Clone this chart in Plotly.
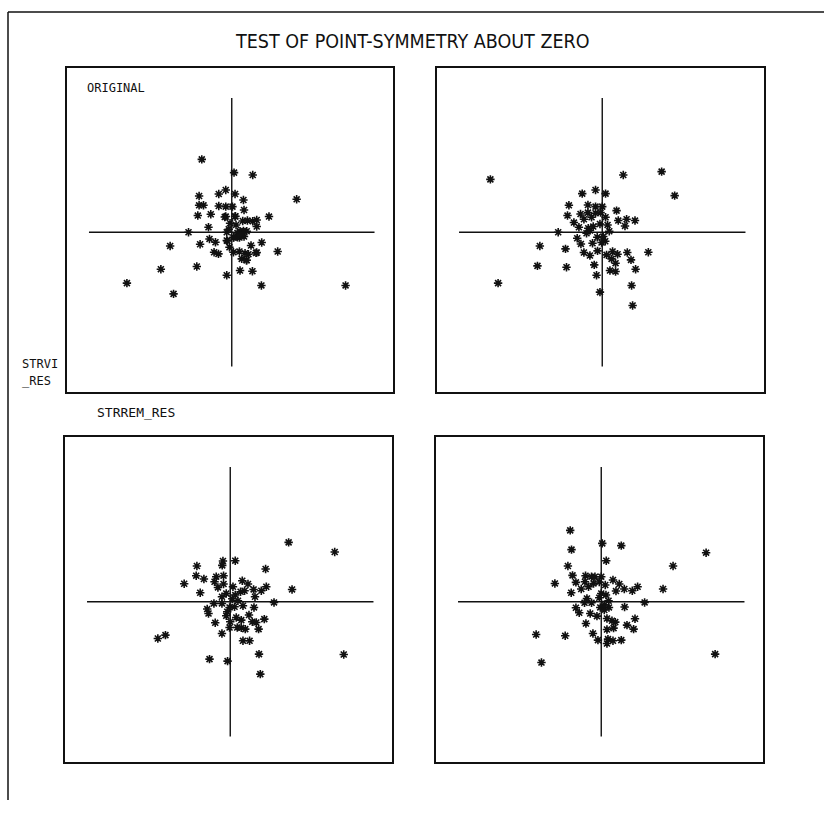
import plotly.graph_objects as go

# Residual pairs (x = STRREM_RES, y = STRVI_RES) for each of the four panels
orig_x = [-3.0, 0.23, 2.1, -0.6, -1.3, -3.27, 0.33, 1.17, 6.5, -3.27, -2.83, -1.3, -0.6, 0.07,
          1.23, -3.4, -2.1, -0.6, 3.73, 0.33, 1.1, 1.57, 2.1, 2.5, -0.17, 0.43, -2.33, 2.5,
          -4.33, -0.5, 0.83, 1.5, -2.23, -3.17, -1.63, -0.5, 0.17, 0.77, 1.23, 3.0, 1.93,
          -0.23, -6.17, -1.77, -1.33, 0.17, 0.77, 1.33, 1.67, 2.5, 4.6, 1.0, 1.5, -7.1, -3.5,
          0.83, 2.07, -0.5, -10.5, 2.97, 11.4, -5.83, 0.37, -0.7, 0.57, 1.17, 0.57, 0.2,
          -0.43, 1.47, 2.43, -0.3, 0.9]
orig_y = [7.3, 5.97, 5.73, 4.23, 3.83, 3.63, 3.83, 3.23, 3.3, 2.7, 2.7, 2.63, 2.57, 2.57,
          2.23, 1.67, 1.8, 1.57, 1.57, 1.57, 1.13, 1.17, 1.1, 1.23, 0.9, 0.73, 0.5, 0.57,
          0.0, 0.0, 0.1, 0.1, -0.67, -1.2, -1.0, -0.83, -0.53, -0.53, -0.43, -1.03, -1.33,
          -1.5, -1.37, -2.0, -2.17, -2.0, -1.93, -2.1, -2.2, -2.03, -1.93, -2.67, -2.8, -3.7,
          -3.43, -3.83, -3.9, -4.3, -5.1, -5.33, -5.33, -6.17, 1.6, 1.53, -0.07, 0.13, -0.5,
          -0.5, -0.87, -2.8, -2.07, 0.3, -0.2]

sym1_x = [-11.17, 2.1, 5.93, 7.23, -2.0, -0.67, 0.33, -3.33, -1.43, -0.67, 0.0, 1.43, -3.47,
          -2.17, -1.43, -0.67, -0.17, 0.33, -1.83, -1.07, 1.6, 2.43, 3.27, 2.27, -2.83, -2.33,
          -1.4, -0.9, -0.23, 0.53, -4.4, -1.57, -1.23, 0.7, 0.1, -2.5, -2.13, -0.97, -0.07,
          -6.23, -3.67, -1.83, -1.23, -0.47, 0.43, 1.03, 1.53, 2.5, 4.6, 0.93, 2.87, 1.33,
          -6.47, -3.57, -0.8, 3.33, 0.77, 1.33, -0.57, -10.4, 2.93, -0.23, 3.03, -0.5, 0.3]
sym1_y = [5.3, 5.73, 6.07, 3.67, 3.87, 4.23, 3.87, 2.7, 2.73, 2.57, 2.57, 2.17, 1.67, 1.83,
          1.97, 1.9, 1.97, 1.5, 1.3, 1.5, 1.17, 1.3, 1.17, 0.63, 0.97, 0.5, 0.4, 0.57, 0.83,
          0.73, 0.0, -0.1, 0.17, 0.1, -0.43, -0.6, -1.17, -1.1, -1.03, -1.37, -1.67, -2.03,
          -2.33, -1.87, -2.27, -1.93, -2.2, -2.03, -2.0, -2.67, -2.77, -3.1, -3.37, -3.5,
          -3.27, -3.7, -3.83, -3.93, -4.3, -5.1, -5.33, -6.0, -7.33, -0.5, -0.9]

sym2_x = [5.83, 10.43, -0.73, 0.5, -0.8, -3.33, 3.53, -3.4, -2.63, -1.4, -0.67, -1.57, -0.67,
          1.2, 1.77, -4.6, -1.23, 0.27, 1.03, 1.43, 2.33, 3.1, 3.6, 6.17, -3.0, -0.4, -0.83,
          0.5, 2.47, -1.63, -0.83, 0.77, 4.37, -0.07, 0.43, 1.27, 2.37, -2.3, -2.17, -0.4,
          0.6, 1.1, 1.87, 3.4, 2.2, 2.6, -1.5, 0.0, -0.07, 0.7, 1.1, 1.5, 2.83, -0.83,
          -7.23, -6.47, 1.27, 1.93, 2.87, 11.33, -2.07, -0.27, 3.0, 0.2, -0.3]
sym2_y = [5.93, 4.97, 4.07, 4.1, 3.63, 3.57, 3.27, 2.6, 2.27, 2.5, 2.6, 2.0, 1.77, 2.1, 1.77,
          1.8, 1.43, 1.5, 1.0, 1.1, 1.23, 1.1, 1.5, 1.23, 0.9, 0.83, 0.5, 0.67, 0.5, -0.17,
          -0.17, 0.1, -0.07, -0.57, -0.5, -0.4, -0.57, -0.73, -1.17, -1.4, -1.57, -1.83,
          -1.33, -1.73, -2.0, -2.07, -2.1, -2.0, -2.57, -2.57, -2.6, -2.73, -2.73, -3.17,
          -3.67, -3.33, -3.9, -3.9, -5.23, -5.27, -5.73, -5.93, -7.23, 0.3, -1.0]

sym3_x = [-3.1, 0.1, 2.0, -2.97, 10.47, 0.5, -3.33, 7.17, -2.87, -1.57, -0.97, -0.63, 0.0,
          -4.63, -2.53, -1.63, -0.77, -0.2, 0.4, 1.17, 1.8, -2.0, -1.27, 1.47, 2.3, 3.1,
          3.63, 6.17, -3.0, 0.0, 0.47, -1.43, 0.73, 4.33, -1.67, -0.97, -2.53, -2.2, -0.1,
          0.3, 0.77, 2.33, -1.1, -0.43, 0.57, 1.07, 1.4, 3.37, 2.57, 3.23, -1.53, 0.57,
          1.23, -0.83, -6.5, -3.6, -0.33, 0.67, 1.17, 2.0, 0.57, 11.37, -5.97, -0.2, 0.3]
sym3_y = [7.13, 5.83, 5.6, 5.2, 4.9, 4.1, 3.57, 3.57, 2.63, 2.6, 2.5, 2.5, 2.5, 1.83, 1.93,
          2.0, 1.83, 1.97, 1.67, 2.17, 1.77, 1.27, 1.5, 1.07, 1.27, 1.1, 1.5, 1.27, 0.9,
          0.83, 0.67, 0.33, 0.1, -0.07, -0.1, -0.1, -0.6, -1.1, -0.57, -0.83, -0.57, -0.53,
          -1.17, -1.43, -1.67, -1.9, -2.03, -1.7, -2.33, -2.73, -2.17, -2.77, -2.63, -3.17,
          -3.27, -3.4, -3.83, -3.73, -3.9, -3.83, -4.17, -5.23, -6.07, 0.4, -0.3]

panel_x = [orig_x, sym1_x, sym2_x, sym3_x]
panel_y = [orig_y, sym1_y, sym2_y, sym3_y]

# Reference cross through the origin
CROSS_X = [-14.3, 14.3]
CROSS_Y = [-13.45, 13.45]
X_RANGE = [-16.5, 16.15]
Y_RANGE = [-16.0, 16.45]

W, H = 824, 815
# Panel boxes in pixels: (left, top, right, bottom)
boxes = [(67, 68, 393, 392), (437, 68, 764, 392), (65, 437, 392, 762), (436, 437, 763, 762)]

INK = "#111111"
MONO = "DejaVu Sans Mono"
NARROW = "Liberation Sans Narrow, DejaVu Sans Condensed, DejaVu Sans Mono"

fig = go.Figure()
layout_axes = {}
for i, (bx, by) in enumerate(zip(panel_x, panel_y)):
    n = "" if i == 0 else str(i + 1)
    xa, ya = "x" + n, "y" + n
    fig.add_trace(go.Scatter(x=CROSS_X, y=[0, 0], mode="lines", xaxis=xa, yaxis=ya,
                             line=dict(color=INK, width=1.4), hoverinfo="skip",
                             showlegend=False))
    fig.add_trace(go.Scatter(x=[0, 0], y=CROSS_Y, mode="lines", xaxis=xa, yaxis=ya,
                             line=dict(color=INK, width=1.4), hoverinfo="skip",
                             showlegend=False))
    fig.add_trace(go.Scatter(x=bx, y=by, mode="markers", xaxis=xa, yaxis=ya,
                             marker=dict(symbol="asterisk-open", size=7, color=INK,
                                         line=dict(color=INK, width=1.6)),
                             showlegend=False))
    l, t, r, b = boxes[i]
    common = dict(showgrid=False, zeroline=False, showticklabels=False, ticks="",
                  showline=True, mirror=True, linecolor=INK, linewidth=1.5, fixedrange=True)
    layout_axes["xaxis" + n] = dict(common, domain=[l / W, r / W], range=X_RANGE,
                                    anchor=ya)
    layout_axes["yaxis" + n] = dict(common, domain=[1 - b / H, 1 - t / H], range=Y_RANGE,
                                    anchor=xa)

fig.update_layout(**layout_axes)

def px_ann(text, x, y, size, family=MONO, xanchor="left"):
    fig.add_annotation(text=text, x=x / W, y=1 - y / H, xref="paper", yref="paper",
                       showarrow=False, xanchor=xanchor, yanchor="middle",
                       font=dict(family=family, size=size, color=INK))

px_ann("TEST OF POINT-SYMMETRY ABOUT ZERO", 412, 41, 19.5, family=NARROW, xanchor="center")
px_ann("ORIGINAL", 85, 88, 12)
px_ann("STRREM_RES", 95, 412, 13)
px_ann("STRVI", 20, 364, 12)
px_ann("_RES", 20, 381, 12)

# Outer frame: top edge and left edge
fig.add_shape(type="line", xref="paper", yref="paper", x0=8 / W, x1=1.0,
              y0=1 - 12 / H, y1=1 - 12 / H, line=dict(color=INK, width=1.5))
fig.add_shape(type="line", xref="paper", yref="paper", x0=8 / W, x1=8 / W,
              y0=1 - 12 / H, y1=1 - 800 / H, line=dict(color=INK, width=1.5))

fig.update_layout(width=W, height=H, margin=dict(l=0, r=0, t=0, b=0),
                  paper_bgcolor="white", plot_bgcolor="white", showlegend=False)

fig.write_html("out.html")
